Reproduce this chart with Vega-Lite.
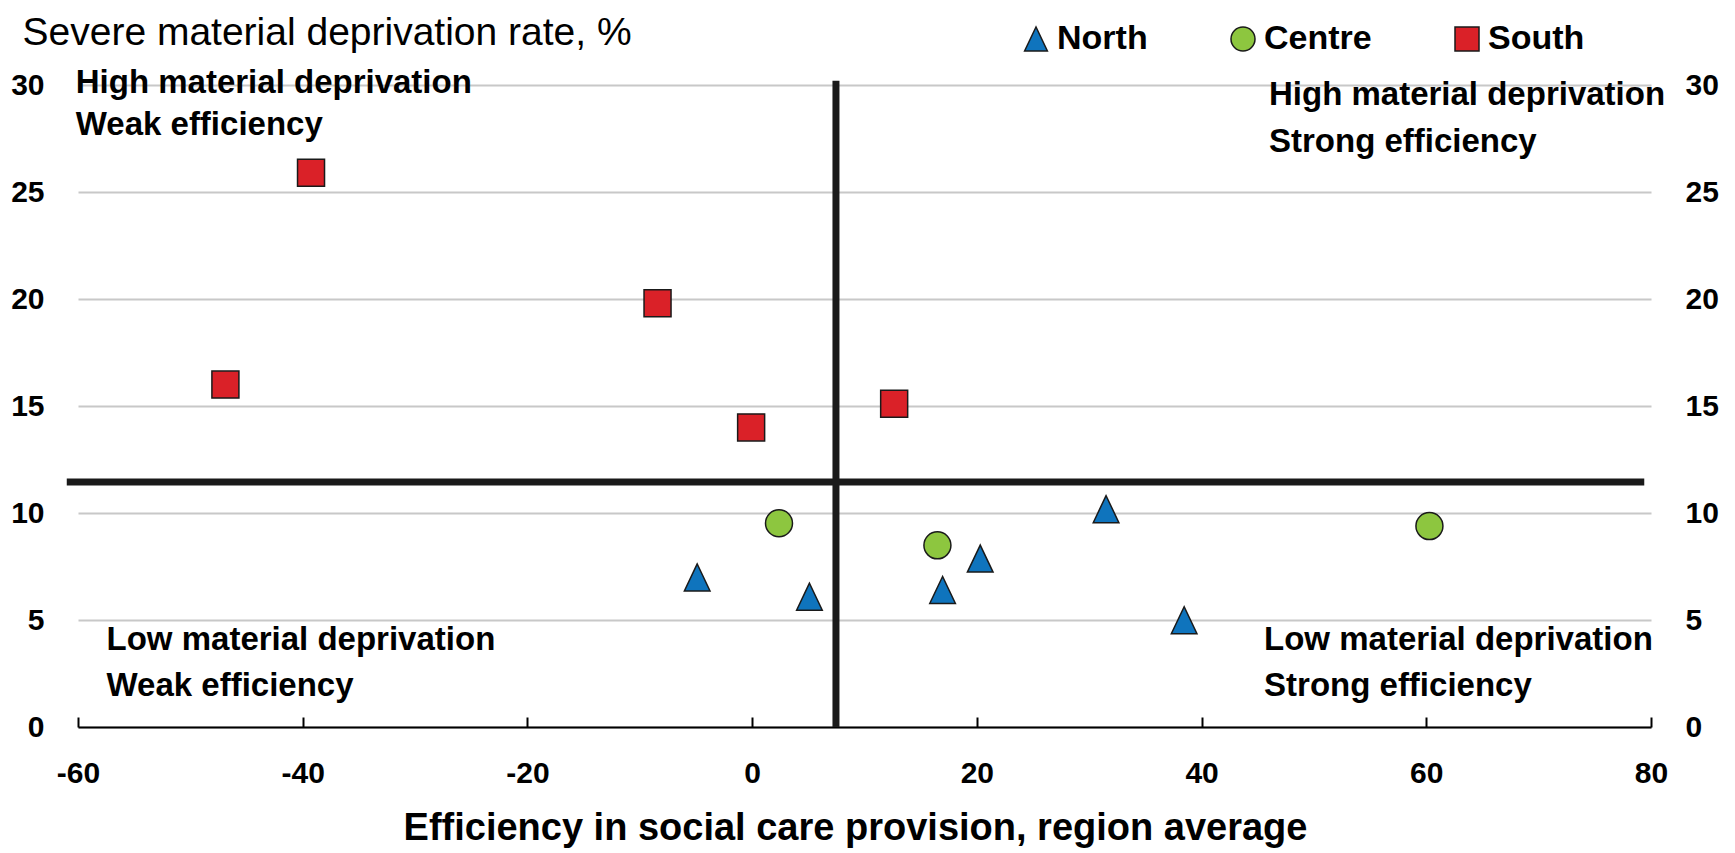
{
  "$schema": "https://vega.github.io/schema/vega-lite/v6.json",
  "width": 1573,
  "height": 642,
  "autosize": {"type": "none"},
  "padding": {"left": 78, "top": 85, "right": 84, "bottom": 126},
  "background": "white",
  "config": {
    "view": {"stroke": null},
    "font": "Liberation Sans",
    "axis": {"labelFont": "Liberation Sans", "labelFontWeight": "bold", "labelFontSize": 30, "labelColor": "#000000", "titleColor": "#000000"},
    "legend": {"labelFont": "Liberation Sans"}
  },
  "resolve": {"axis": {"y": "independent"}},
  "layer": [
    {
      "data": {"values": [
        {"x": -60.2, "y": 30.09, "label": "High material deprivation"},
        {"x": -60.2, "y": 28.13, "label": "Weak efficiency"},
        {"x": 46.0, "y": 29.53, "label": "High material deprivation"},
        {"x": 46.0, "y": 27.34, "label": "Strong efficiency"},
        {"x": -57.46, "y": 4.07, "label": "Low material deprivation"},
        {"x": -57.46, "y": 1.92, "label": "Weak efficiency"},
        {"x": 45.56, "y": 4.07, "label": "Low material deprivation"},
        {"x": 45.56, "y": 1.92, "label": "Strong efficiency"}
      ]},
      "mark": {"type": "text", "align": "left", "baseline": "middle", "fontSize": 33, "fontWeight": "bold", "font": "Liberation Sans", "color": "#000000"},
      "encoding": {
        "x": {"field": "x", "type": "quantitative"},
        "y": {"field": "y", "type": "quantitative", "axis": null},
        "text": {"field": "label"}
      }
    },
    {
      "data": {"values": [{"x": -61, "x2": 79.4, "y": 11.45}]},
      "mark": {"type": "rule", "color": "#1a1a1a", "strokeWidth": 7, "clip": false},
      "encoding": {
        "x": {"field": "x", "type": "quantitative"},
        "x2": {"field": "x2"},
        "y": {"field": "y", "type": "quantitative", "axis": null}
      }
    },
    {
      "data": {"values": [{"x": 7.46, "y": 0, "y2": 30.2}]},
      "mark": {"type": "rule", "color": "#1a1a1a", "strokeWidth": 7, "clip": false},
      "encoding": {
        "x": {"field": "x", "type": "quantitative"},
        "y": {"field": "y", "type": "quantitative", "scale": {"domain": [0, 30], "nice": false},
          "axis": {"orient": "right", "title": null, "values": [0, 5, 10, 15, 20, 25, 30], "grid": false, "domain": false, "ticks": false, "labelPadding": 34, "labelAlign": "left", "labelBaseline": "middle"}},
        "y2": {"field": "y2"}
      }
    },
    {
      "data": {"values": [
        {"region": "North", "x": -4.89, "y": 6.99},
        {"region": "North", "x": 5.1, "y": 6.09},
        {"region": "North", "x": 16.95, "y": 6.4},
        {"region": "North", "x": 20.3, "y": 7.87},
        {"region": "North", "x": 31.5, "y": 10.18},
        {"region": "North", "x": 38.45, "y": 4.99},
        {"region": "Centre", "x": 2.39, "y": 9.52},
        {"region": "Centre", "x": 16.49, "y": 8.49},
        {"region": "Centre", "x": 60.28, "y": 9.39},
        {"region": "South", "x": -39.26, "y": 25.9},
        {"region": "South", "x": -8.42, "y": 19.8},
        {"region": "South", "x": -46.88, "y": 16.0},
        {"region": "South", "x": -0.09, "y": 14.0},
        {"region": "South", "x": 12.64, "y": 15.1}
      ]},
      "mark": {"type": "point", "filled": true, "opacity": 1, "size": 729, "stroke": "#1a1a1a", "strokeWidth": 1.5},
      "encoding": {
        "x": {"field": "x", "type": "quantitative",
          "scale": {"domain": [-60, 80], "nice": false, "zero": false},
          "axis": {"title": "Efficiency in social care provision, region average", "values": [-60, -40, -20, 0, 20, 40, 60, 80],
            "labelExpr": "replace(datum.label, '\u2212', '-')",
            "grid": false, "domain": true, "domainColor": "#000000", "domainWidth": 2, "ticks": true, "tickColor": "#000000", "tickWidth": 2, "tickSize": -10,
            "labelPadding": 41, "labelFlush": false,
            "titleFont": "Liberation Sans", "titleFontSize": 38, "titleFontWeight": "bold", "titleAnchor": "middle", "titleX": 777, "titleY": 112, "titleBaseline": "alphabetic", "titleAlign": "center"}},
        "y": {"field": "y", "type": "quantitative",
          "scale": {"domain": [0, 30], "nice": false},
          "axis": {"title": "Severe material deprivation rate, %", "values": [0, 5, 10, 15, 20, 25, 30],
            "grid": true, "gridColor": "#c8c8c8", "gridWidth": 2, "domain": false, "ticks": false, "labelPadding": 34, "labelAlign": "right", "labelBaseline": "middle",
            "titleFont": "Liberation Sans", "titleFontSize": 39, "titleFontWeight": "normal", "titleAngle": 0, "titleAlign": "left", "titleBaseline": "alphabetic", "titleX": -56, "titleY": -41}},
        "color": {"field": "region", "type": "nominal",
          "scale": {"domain": ["North", "Centre", "South"], "range": ["#0F74BD", "#8DC63F", "#DA2128"]},
          "legend": {"orient": "none", "legendX": 941, "legendY": -63, "direction": "horizontal", "title": null,
            "labelFontSize": 34, "labelFontWeight": "bold", "labelColor": "#000000", "labelOffset": 4, "columnPadding": 78,
            "symbolSize": 576, "symbolStrokeColor": "#1a1a1a", "symbolStrokeWidth": 1.5, "symbolOpacity": 1, "padding": 0}},
        "shape": {"field": "region", "type": "nominal",
          "scale": {"domain": ["North", "Centre", "South"], "range": ["M0,-1L-0.95,1L0.95,1Z", "circle", "square"]}}
      }
    }
  ]
}
